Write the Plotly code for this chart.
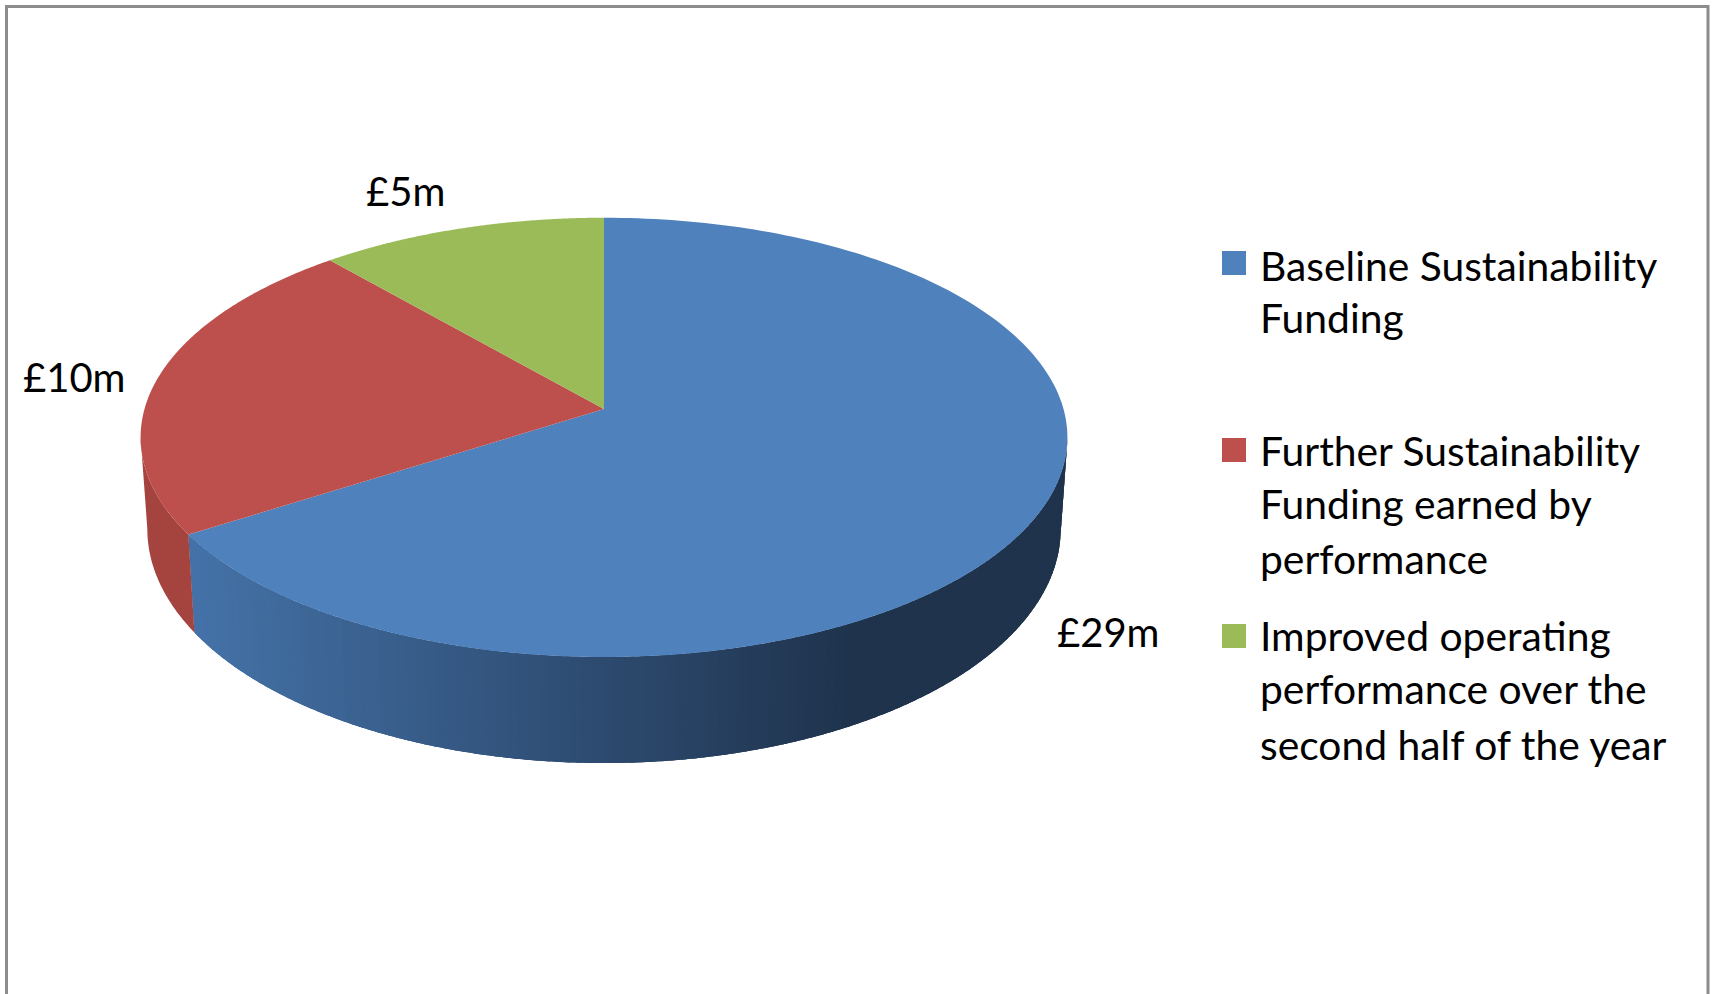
import numpy as np
import plotly.graph_objects as go

categories = ["Baseline Sustainability Funding",
              "Further Sustainability Funding earned by performance",
              "Improved operating performance over the second half of the year"]
values = [29, 10, 5]
value_labels = ["£29m", "£10m", "£5m"]
legend_lines = [["Baseline Sustainability", "Funding"],
                ["Further Sustainability", "Funding earned by", "performance"],
                ["Improved operating", "performance over the", "second half of the year"]]
top_colors = ["#4f81bd", "#bd4f4c", "#9bbb59"]

W, H = 1715, 994
FONT = "Lato"
LABEL_FS = 40
LEGEND_FS = 40.8
CX, CY = 604, 409          # apex of the pie as seen in perspective
A, B, K = 459.5, 216.0, 0.1293
TANGENT = np.radians(97.4)  # where the rim has a vertical tangent


def top(theta):
    u, v = np.sin(theta), np.cos(theta)
    d = 1 + K * v
    return CX + A * u / d, CY - B * v / d


def bottom(theta):
    x, y = top(theta)
    return CX + (x - CX) * 0.9855, y + 98 + 0.0653 * (y - 535)


def mix(c0, c1, t):
    t = float(np.clip(t, 0, 1))
    return "rgb(%d,%d,%d)" % tuple(round(a + (b - a) * t) for a, b in zip(c0, c1))


angles = np.cumsum([0] + values) / sum(values) * 2 * np.pi
fig = go.Figure()


def poly(xs, ys, color, name=None):
    fig.add_trace(go.Scatter(x=xs, y=ys, mode="none", fill="toself", fillcolor=color,
                             showlegend=False, hoverinfo="text" if name else "skip", text=name))


# side wall of the blue slice: overlapping bands that darken to the right
edges = np.linspace(TANGENT, angles[1], 121)
step = edges[1] - edges[0]
for t0 in edges[:-1]:
    t1 = min(t0 + 2.5 * step, angles[1])
    arc = np.linspace(t0, t1, 4)
    tx, ty = top(arc)
    bx, by = bottom(arc[::-1])
    xm = top(t0 + step / 2)[0]
    col = mix((0x44, 0x72, 0xa8), (0x1f, 0x33, 0x4d), (xm - 190) / (850 - 190))
    poly(np.r_[tx, bx].tolist(), np.r_[ty, by].tolist(), col)
# side wall of the red slice
arc = np.linspace(angles[1], 2 * np.pi - TANGENT, 40)
tx, ty = top(arc)
bx, by = bottom(arc[::-1])
poly(np.r_[tx, bx].tolist(), np.r_[ty, by].tolist(), "#a5433f")

# top faces
for i, cat in enumerate(categories):
    arc = np.linspace(angles[i], angles[i + 1], 200)
    x, y = top(arc)
    poly(np.r_[CX, x, CX].tolist(), np.r_[CY, y, CY].tolist(), top_colors[i], cat)

# legend swatches
swatch_y = [263, 450, 636]
fig.add_trace(go.Scatter(x=[1234] * 3, y=swatch_y, mode="markers", showlegend=False, hoverinfo="skip",
                         marker=dict(symbol="square", size=24, color=top_colors, line=dict(width=0))))

annotations = []
line_y = [[265, 317], [450, 503, 558], [635, 688, 744]]
for lines, ys in zip(legend_lines, line_y):
    for txt, y in zip(lines, ys):
        annotations.append(dict(x=1258, y=y, text=txt, xanchor="left", yanchor="middle", showarrow=False,
                                xref="x", yref="y", font=dict(family=FONT, size=LEGEND_FS, color="#000000")))
label_xy = [(1108, 632), (74, 377), (405, 191)]
for txt, (x, y) in zip(value_labels, label_xy):
    annotations.append(dict(x=x, y=y, text=txt, xanchor="center", yanchor="middle", showarrow=False,
                            xref="x", yref="y", font=dict(family=FONT, size=LABEL_FS, color="#000000")))

fig.update_layout(
    width=W, height=H, margin=dict(l=0, r=0, t=0, b=0),
    paper_bgcolor="white", plot_bgcolor="white", showlegend=False,
    xaxis=dict(range=[0, W], visible=False, fixedrange=True),
    yaxis=dict(range=[H, 0], visible=False, fixedrange=True),
    annotations=annotations,
    shapes=[dict(type="path", path=f"M 6.5 {H+5} L 6.5 6.5 L 1708 6.5 L 1708 {H+5}",
                 xref="x", yref="y", line=dict(color="#8c8c8c", width=3))],
)
fig.write_html("out.html", config={"displayModeBar": False},
               post_script="document.body.style.margin='0';document.body.style.overflow='hidden';")
